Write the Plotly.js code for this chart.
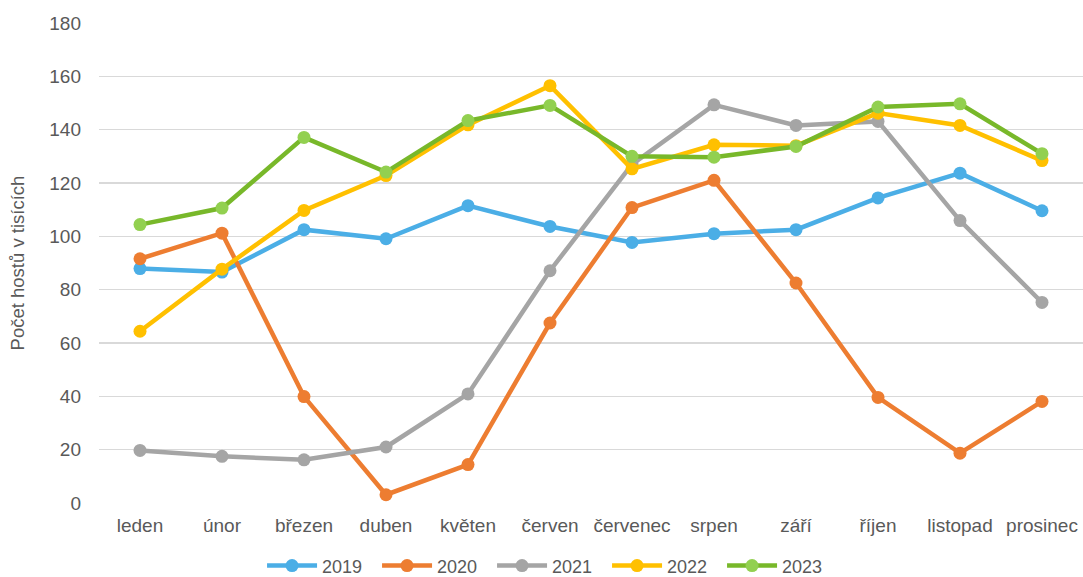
<!DOCTYPE html>
<html>
<head>
<meta charset="utf-8">
<script src="https://cdn.plot.ly/plotly-3.0.1.min.js"></script>
<style>
  html, body { margin: 0; padding: 0; background: #fff; }
  #chart { width: 1083px; height: 577px; }
</style>
</head>
<body>
<div id="chart"></div>
<script>
const months = ["leden", "únor", "březen", "duben", "květen", "červen", "červenec", "srpen", "září", "říjen", "listopad", "prosinec"];
const seriesNames = ["2019", "2020", "2021", "2022", "2023"];
const v2019 = [87.9, 86.6, 102.5, 99.1, 111.5, 103.7, 97.7, 101.0, 102.5, 114.4, 123.7, 109.6];
const v2020 = [91.6, 101.2, 39.9, 3.1, 14.4, 67.5, 110.8, 121.0, 82.5, 39.6, 18.7, 38.1];
const v2021 = [19.7, 17.5, 16.2, 21.0, 40.9, 87.1, 127.0, 149.3, 141.6, 143.1, 105.9, 75.2];
const v2022 = [64.4, 87.7, 109.7, 122.8, 141.8, 156.5, 125.3, 134.3, 134.0, 146.2, 141.6, 128.4];
const v2023 = [104.4, 110.6, 137.1, 124.1, 143.4, 149.1, 130.0, 129.7, 133.7, 148.5, 149.7, 131.0];
const yTicks = [0, 20, 40, 60, 80, 100, 120, 140, 160, 180];

const values = [v2019, v2020, v2021, v2022, v2023];
const lineColors = ["#4BAEE6", "#ED7D31", "#A5A5A5", "#FFC000", "#78B82A"];
const markerColors = ["#4BAEE6", "#ED7D31", "#A5A5A5", "#FFC000", "#92D050"];

const traces = values.map((v, i) => ({
  type: "scatter",
  mode: "lines+markers",
  name: seriesNames[i],
  x: months,
  y: v,
  line: { color: lineColors[i], width: 4.5 },
  marker: { color: markerColors[i], size: 13 },
  hoverinfo: "skip"
}));

const layout = {
  width: 1083,
  height: 577,
  margin: { l: 99, r: 0, t: 23, b: 74, autoexpand: false },
  paper_bgcolor: "#ffffff",
  plot_bgcolor: "#ffffff",
  font: { family: "Liberation Sans, Arial, sans-serif", size: 19, color: "#595959" },
  showlegend: true,
  legend: {
    orientation: "h",
    x: 0.1657, xanchor: "left",
    y: -0.131, yanchor: "middle",
    font: { size: 18, color: "#595959" },
    itemwidth: 50,
    entrywidth: 50,
    entrywidthmode: "pixels",
    tracegroupgap: 0
  },
  xaxis: {
    type: "category",
    range: [-0.5, 11.5],
    tickmode: "array",
    tickvals: months,
    ticktext: months,
    showgrid: false,
    zeroline: false,
    showline: false,
    ticks: "",
    automargin: false,
    ticklabelstandoff: 9,
    fixedrange: true
  },
  yaxis: {
    range: [0, 180],
    tickmode: "array",
    tickvals: yTicks,
    ticktext: yTicks.map(String),
    showgrid: true,
    gridcolor: "#D9D9D9",
    gridwidth: 1.3,
    zeroline: false,
    showline: false,
    ticks: "",
    ticklabelstandoff: 17,
    automargin: false,
    title: { text: "Počet hostů v tisících", font: { size: 18.5, color: "#595959" }, standoff: 19 },
    fixedrange: true
  }
};

Plotly.newPlot("chart", traces, layout, { displayModeBar: false, staticPlot: true });
</script>
</body>
</html>
